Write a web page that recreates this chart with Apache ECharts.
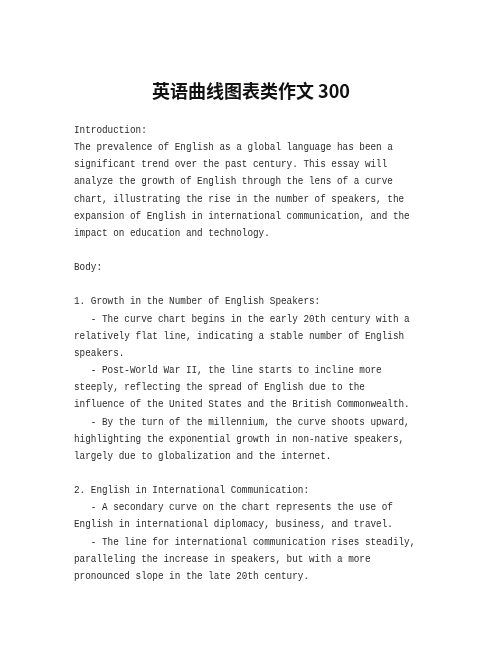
<!DOCTYPE html>
<html>
<head>
<meta charset="utf-8">
<script src="https://cdn.jsdelivr.net/npm/echarts@6/dist/echarts.min.js"></script>
<style>
html,body{margin:0;padding:0;background:#fff;}
#main{width:502px;height:649px;}
</style>
</head>
<body>
<div id="main"></div>
<script>
var titleText = '英语曲线图表类作文 300';
var bodyLines = [
  'Introduction:',
  'The prevalence of English as a global language has been a',
  'significant trend over the past century. This essay will',
  'analyze the growth of English through the lens of a curve',
  'chart, illustrating the rise in the number of speakers, the',
  'expansion of English in international communication, and the',
  'impact on education and technology.',
  '',
  'Body:',
  '',
  '1. Growth in the Number of English Speakers:',
  '   - The curve chart begins in the early 20th century with a',
  'relatively flat line, indicating a stable number of English',
  'speakers.',
  '   - Post-World War II, the line starts to incline more',
  'steeply, reflecting the spread of English due to the',
  'influence of the United States and the British Commonwealth.',
  '   - By the turn of the millennium, the curve shoots upward,',
  'highlighting the exponential growth in non-native speakers,',
  'largely due to globalization and the internet.',
  '',
  '2. English in International Communication:',
  '   - A secondary curve on the chart represents the use of',
  'English in international diplomacy, business, and travel.',
  '   - The line for international communication rises steadily,',
  'paralleling the increase in speakers, but with a more',
  'pronounced slope in the late 20th century.'
];

var chart = echarts.init(document.getElementById('main'), null, {renderer: 'canvas'});
var FS = 11.2;
var charW = 5.6;
var sx = charW / (FS * 0.6);
var elements = [{
  type: 'text',
  x: 251, y: 91,
  style: {
    text: titleText,
    fill: '#111',
    font: 'bold 18px "Noto Sans CJK SC", "Liberation Sans", sans-serif',
    textAlign: 'center',
    textVerticalAlign: 'middle'
  }
}];
bodyLines.forEach(function (t, i) {
  if (!t) return;
  elements.push({
    type: 'text',
    x: 74,
    y: 130 + i * 17.15,
    scaleX: sx,
    style: {
      text: t,
      fill: '#2a2a2a',
      font: FS + 'px "Liberation Mono", "DejaVu Sans Mono", monospace',
      textAlign: 'left',
      textVerticalAlign: 'middle'
    }
  });
});
chart.setOption({
  backgroundColor: '#ffffff',
  animation: false,
  graphic: { elements: elements }
});
</script>
</body>
</html>
